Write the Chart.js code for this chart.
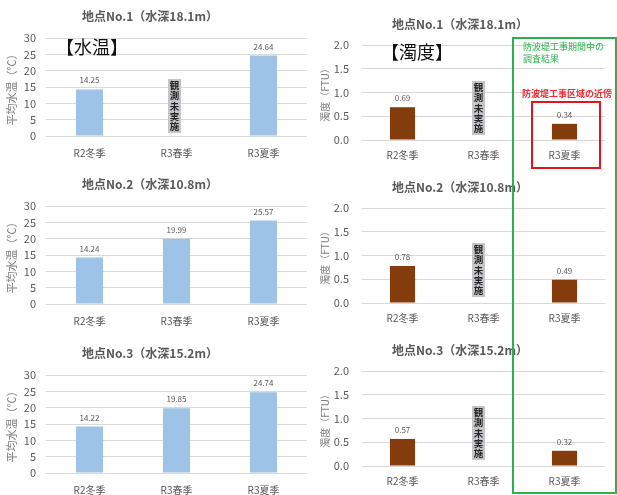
<!DOCTYPE html>
<html>
<head>
<meta charset="utf-8">
<script src="https://cdn.jsdelivr.net/npm/chart.js@4.4.0/dist/chart.umd.min.js"></script>
<style>
  html, body { margin: 0; padding: 0; background: #fff; width: 617px; height: 495px; overflow: hidden; }
  body { position: relative; font-family: "Noto Sans CJK JP", "Noto Sans", sans-serif; }
  canvas { position: absolute; }
  .heading { position: absolute; font-size: 18px; color: #111; line-height: 1; white-space: nowrap; }
  .frame-green { position: absolute; left: 512px; top: 37px; width: 101px; height: 453px; border: 2px solid #2db14e; }
  .frame-red { position: absolute; left: 531px; top: 101px; width: 66px; height: 64px; border: 2px solid #e5131c; }
  .note-green { position: absolute; left: 523px; top: 41px; font-size: 9px; line-height: 12px; color: #2db14e; white-space: nowrap; }
  .note-red { position: absolute; left: 522px; top: 88px; font-size: 9px; line-height: 12px; color: #f02a30; white-space: nowrap; font-weight: bold; }
</style>
</head>
<body>
<canvas id="tempNo1" width="310" height="160" style="left:0;top:0"></canvas>
<canvas id="tempNo2" width="310" height="160" style="left:0;top:168px"></canvas>
<canvas id="tempNo3" width="310" height="160" style="left:0;top:337px"></canvas>
<canvas id="turbNo1" width="306" height="165" style="left:305px;top:0"></canvas>
<canvas id="turbNo2" width="306" height="165" style="left:305px;top:163px"></canvas>
<canvas id="turbNo3" width="306" height="165" style="left:305px;top:326px"></canvas>

<div class="heading" style="left:56px;top:37px">【水温】</div>
<div class="heading" style="left:381px;top:42px">【濁度】</div>
<div class="frame-green"></div>
<div class="note-green">防波堤工事期間中の<br>調査結果</div>
<div class="note-red">防波堤工事区域の近傍</div>
<div class="frame-red"></div>

<script>
// Survey seasons (x categories)
const seasons = ['R2冬季', 'R3春季', 'R3夏季'];

// Station panel titles
const stationTitles = ['地点No.1（水深18.1m）', '地点No.2（水深10.8m）', '地点No.3（水深15.2m）'];

// Mean water temperature (℃); null = not observed
const tempNo1 = [14.25, null, 24.64];
const tempNo2 = [14.24, 19.99, 25.57];
const tempNo3 = [14.22, 19.85, 24.74];

// Turbidity (FTU); null = not observed
const turbNo1 = [0.69, null, 0.34];
const turbNo2 = [0.78, null, 0.49];
const turbNo3 = [0.57, null, 0.32];

// Axis tick values
const tempTicks = [0, 5, 10, 15, 20, 25, 30];
const turbTicks = [0, 0.5, 1.0, 1.5, 2.0];

const missingLabel = '観測未実施';
const tempAxisTitle = '平均水温（℃）';
const turbAxisTitle = '濁度（FTU）';

const FONT = '"Noto Sans CJK JP", "Noto Sans", sans-serif';

// Draws panel title, value labels and the vertical "not observed" tag
const panelDecor = {
  id: 'panelDecor',
  afterDatasetsDraw(chart, args, opts) {
    const ctx = chart.ctx;
    const meta = chart.getDatasetMeta(0);
    const xs = chart.scales.x, ys = chart.scales.y;
    const data = chart.data.datasets[0].data;
    ctx.save();
    data.forEach((v, i) => {
      if (v === null) {
        const cx = xs.getPixelForValue(i) + opts.tagShift;
        const chars = [...missingLabel];
        const step = 10.4;
        const h = chars.length * step + 2;
        const bottom = ys.bottom - opts.tagGap;
        const top = bottom - h;
        ctx.fillStyle = '#c6c6ca';
        ctx.fillRect(cx - 6.5, top, 13, h);
        ctx.fillStyle = '#262626';
        ctx.font = `bold 9.5px ${FONT}`;
        ctx.textAlign = 'center';
        ctx.textBaseline = 'middle';
        chars.forEach((c, k) => ctx.fillText(c, cx, top + 1 + step * (k + 0.5)));
      } else {
        const bar = meta.data[i];
        ctx.fillStyle = '#595959';
        ctx.font = `8px ${FONT}`;
        ctx.textAlign = 'center';
        ctx.textBaseline = 'middle';
        ctx.fillText(v.toFixed(2), bar.x, bar.y - 9);
      }
    });
    ctx.font = `bold 12px ${FONT}`;
    ctx.fillStyle = '#595959';
    ctx.textAlign = 'center';
    ctx.textBaseline = 'middle';
    ctx.fillText(opts.title, opts.titleX, opts.titleY);
    ctx.restore();
  }
};

function makePanel(id, values, title, kind) {
  const isTemp = kind === 'temp';
  const ticks = isTemp ? tempTicks : turbTicks;
  const L = isTemp
    ? { areaTop: 38, areaBottom: 136, h: 160, right: 3, yW: 46, xH: 22, tickPad: 10, xPad: 11, titleX: 150, titleY: 16, yTitlePad: 5, yTitleSize: 11, tagShift: -2, tagGap: 3 }
    : { areaTop: 45, areaBottom: 140, h: 165, right: 6, yW: 57, xH: 20, tickPad: 13, xPad: 9, titleX: 155, titleY: 24, yTitlePad: 14, yTitleSize: 10, tagShift: -5, tagGap: 5 };
  if (!isTemp && id !== 'turbNo1') L.tagGap = 6;

  new Chart(document.getElementById(id), {
    type: 'bar',
    data: {
      labels: seasons,
      datasets: [{
        data: values,
        backgroundColor: isTemp ? '#9dc3e6' : '#843c0c',
        borderWidth: 0,
        categoryPercentage: 1,
        barPercentage: 0.31
      }]
    },
    options: {
      responsive: false,
      animation: false,
      devicePixelRatio: 1,
      layout: { padding: { top: L.areaTop, right: L.right, bottom: L.h - L.areaBottom - L.xH, left: 0 } },
      plugins: {
        legend: { display: false },
        tooltip: { enabled: false },
        panelDecor: { title, titleX: L.titleX, titleY: L.titleY, tagShift: L.tagShift, tagGap: L.tagGap }
      },
      scales: {
        x: {
          grid: { display: false, drawTicks: false },
          border: { display: false },
          ticks: { color: '#595959', font: { family: FONT, size: 10 }, padding: L.xPad },
          afterFit: s => { s.height = L.xH; }
        },
        y: {
          min: ticks[0],
          max: ticks[ticks.length - 1],
          grid: { color: '#d9d9d9', lineWidth: 1, drawTicks: false },
          border: { display: false },
          ticks: {
            stepSize: ticks[1] - ticks[0],
            color: '#595959',
            font: { family: FONT, size: 11 },
            padding: L.tickPad,
            callback: v => isTemp ? String(v) : Number(v).toFixed(1)
          },
          title: {
            display: true,
            text: isTemp ? tempAxisTitle : turbAxisTitle,
            color: '#7f7f7f',
            font: { family: FONT, size: L.yTitleSize },
            padding: { top: L.yTitlePad, bottom: 0 }
          },
          afterFit: s => { s.width = L.yW; }
        }
      }
    },
    plugins: [panelDecor]
  });
}

makePanel('tempNo1', tempNo1, stationTitles[0], 'temp');
makePanel('tempNo2', tempNo2, stationTitles[1], 'temp');
makePanel('tempNo3', tempNo3, stationTitles[2], 'temp');
makePanel('turbNo1', turbNo1, stationTitles[0], 'turb');
makePanel('turbNo2', turbNo2, stationTitles[1], 'turb');
makePanel('turbNo3', turbNo3, stationTitles[2], 'turb');
</script>
</body>
</html>
